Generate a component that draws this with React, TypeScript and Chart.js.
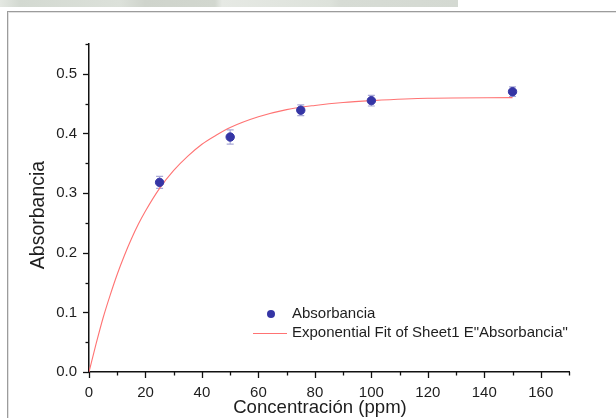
import React, { useEffect, useRef } from "react";
import { Chart, registerables } from "chart.js";

Chart.register(...registerables);

// ---- data ----
const concentrations = [25, 50, 75, 100, 150];
const absorbance = [0.318, 0.394, 0.439, 0.455, 0.47];
const absorbanceError = [0.01, 0.012, 0.009, 0.009, 0.008];

// fitted curve
const fitX = [0, 2.5, 5, 7.5, 10, 12.5, 15, 17.5, 20, 25, 30, 35, 40, 45, 50, 60, 70, 80, 90, 100, 120, 150];
const fitY = [0, 0.047, 0.091, 0.129, 0.164, 0.195, 0.223, 0.248, 0.27, 0.308, 0.338, 0.362, 0.382, 0.397, 0.41, 0.428, 0.44, 0.447, 0.452, 0.455, 0.459, 0.46];

const seriesLabel = "Absorbancia";
const fitLabel = 'Exponential Fit of Sheet1 E"Absorbancia"';
const xTitle = "Concentración (ppm)";
const yTitle = "Absorbancia";

const xMin = 0;
const xMax = 170;
const xStep = 10;
const xLabelEvery = 20;
const xLastLabel = 160;
const yMin = 0;
const yMax = 0.55;
const yStep = 0.05;
const yLabelEvery = 0.1;

const FONT = "'Liberation Sans', Arial, sans-serif";
const TEXT = "#1e1e1e";
const POINT = "#3535a5";
const ERR = "#a9a9d6";
const FIT = "#ff7373";

const isMultiple = (v: number, m: number) => Math.abs(v / m - Math.round(v / m)) < 1e-6;

const tickMarks = {
  id: "tickMarks",
  afterDraw(chart: any) {
    const ctx = chart.ctx;
    const xs = chart.scales.x;
    const ys = chart.scales.y;
    const area = chart.chartArea;
    ctx.save();
    ctx.strokeStyle = "#111";
    ctx.lineWidth = 1.3;
    xs.ticks.forEach((t: any) => {
      const px = Math.round(xs.getPixelForValue(t.value)) + 0.5;
      const major = isMultiple(t.value, xLabelEvery);
      ctx.beginPath();
      ctx.moveTo(px, area.bottom);
      ctx.lineTo(px, area.bottom + (major ? 6 : 3.5));
      ctx.stroke();
    });
    ys.ticks.forEach((t: any) => {
      const py = Math.round(ys.getPixelForValue(t.value)) + 0.5;
      const major = isMultiple(t.value, yLabelEvery);
      ctx.beginPath();
      ctx.moveTo(area.left, py);
      ctx.lineTo(area.left - (major ? 6 : 3.5), py);
      ctx.stroke();
    });
    ctx.restore();
  },
};

const errorBars = {
  id: "errorBars",
  beforeDatasetsDraw(chart: any) {
    const ctx = chart.ctx;
    const xs = chart.scales.x;
    const ys = chart.scales.y;
    ctx.save();
    ctx.strokeStyle = ERR;
    ctx.lineWidth = 1.2;
    concentrations.forEach((c, i) => {
      const px = xs.getPixelForValue(c);
      const top = ys.getPixelForValue(absorbance[i] + absorbanceError[i]);
      const bot = ys.getPixelForValue(absorbance[i] - absorbanceError[i]);
      ctx.beginPath();
      ctx.moveTo(px, top);
      ctx.lineTo(px, bot);
      ctx.moveTo(px - 3.5, top);
      ctx.lineTo(px + 3.5, top);
      ctx.moveTo(px - 3.5, bot);
      ctx.lineTo(px + 3.5, bot);
      ctx.stroke();
    });
    ctx.restore();
  },
};

const titlesAndLegend = {
  id: "titlesAndLegend",
  afterDraw(chart: any) {
    const ctx = chart.ctx;
    const area = chart.chartArea;
    ctx.save();
    ctx.fillStyle = TEXT;
    // x title
    ctx.font = `18.6px ${FONT}`;
    ctx.textAlign = "center";
    ctx.textBaseline = "alphabetic";
    ctx.fillText(xTitle, (area.left + area.right) / 2 - 9, area.bottom + 41);
    // y title
    ctx.save();
    ctx.font = `19.5px ${FONT}`;
    ctx.translate(area.left - 45, (area.top + area.bottom) / 2 + 7);
    ctx.rotate(-Math.PI / 2);
    ctx.textBaseline = "alphabetic";
    ctx.fillText(yTitle, 0, 0);
    ctx.restore();
    // legend
    const ds = chart.data.datasets;
    const lx = 253;
    const ly1 = 314;
    const ly2 = 333;
    ctx.fillStyle = POINT;
    ctx.beginPath();
    ctx.arc(lx + 18, ly1, 4, 0, Math.PI * 2);
    ctx.fill();
    ctx.strokeStyle = FIT;
    ctx.lineWidth = 1.2;
    ctx.beginPath();
    ctx.moveTo(lx, ly2 + 0.5);
    ctx.lineTo(lx + 34, ly2 + 0.5);
    ctx.stroke();
    ctx.fillStyle = TEXT;
    ctx.font = `15px ${FONT}`;
    ctx.textAlign = "left";
    ctx.textBaseline = "middle";
    ctx.fillText(ds[0].label, lx + 39, ly1);
    ctx.fillText(ds[1].label, lx + 39, ly2);
    ctx.restore();
  },
};

export default function App() {
  const ref = useRef<HTMLCanvasElement | null>(null);

  useEffect(() => {
    if (!ref.current) return;
    const scatterPoints = concentrations.map((c, i) => ({ x: c, y: absorbance[i] }));
    const fitPoints = fitX.map((x, i) => ({ x, y: fitY[i] }));
    const chart = new Chart(ref.current, {
      type: "scatter",
      data: {
        datasets: [
          {
            label: seriesLabel,
            data: scatterPoints,
            backgroundColor: POINT,
            borderColor: POINT,
            pointRadius: 4.2,
            pointHoverRadius: 4.2,
            order: 0,
          },
          {
            label: fitLabel,
            data: fitPoints,
            showLine: true,
            borderColor: FIT,
            borderWidth: 1.1,
            pointRadius: 0,
            cubicInterpolationMode: "monotone",
            order: 1,
          } as any,
        ],
      },
      options: {
        responsive: false,
        animation: false,
        devicePixelRatio: 1,
        layout: { padding: { left: 0, top: 44, right: 47, bottom: 0 } },
        plugins: { legend: { display: false }, tooltip: { enabled: false } },
        scales: {
          x: {
            type: "linear",
            min: xMin,
            max: xMax,
            afterFit: (s: any) => {
              s.height = 46;
            },
            afterBuildTicks: (s: any) => {
              const t = [];
              for (let v = xMin; v <= xMax + 1e-9; v += xStep) t.push({ value: v });
              s.ticks = t;
            },
            grid: { display: false, drawTicks: false },
            border: { display: true, color: "#111", width: 1.5 },
            ticks: {
              padding: 12,
              maxRotation: 0,
              autoSkip: false,
              color: TEXT,
              font: { family: FONT, size: 15 },
              callback: (v: any) => (isMultiple(v, xLabelEvery) && v <= xLastLabel ? String(v) : ""),
            },
          },
          y: {
            type: "linear",
            min: yMin,
            max: yMax,
            afterFit: (s: any) => {
              s.width = 89;
            },
            afterBuildTicks: (s: any) => {
              const t = [];
              for (let i = 0; yMin + i * yStep <= yMax + 1e-9; i++) t.push({ value: +(yMin + i * yStep).toFixed(4) });
              s.ticks = t;
            },
            grid: { display: false, drawTicks: false },
            border: { display: true, color: "#111", width: 1.5 },
            ticks: {
              padding: 12,
              autoSkip: false,
              color: TEXT,
              font: { family: FONT, size: 15 },
              callback: (v: any) => (isMultiple(v, yLabelEvery) ? Number(v).toFixed(1) : ""),
            },
          },
        },
      },
      plugins: [errorBars, tickMarks, titlesAndLegend],
    });
    return () => chart.destroy();
  }, []);

  return (
    <div
      style={{
        position: "fixed",
        left: 0,
        top: 0,
        width: 616,
        height: 418,
        background: "#ffffff",
        overflow: "hidden",
      }}
    >
      <div
        style={{
          position: "absolute",
          left: 0,
          top: 0,
          width: 458,
          height: 7,
          background:
            "linear-gradient(90deg, #e4e8e2 0px, #d3d9d1 20px, #dce1da 120px, #cfd4cc 145px, #d2d7cf 215px, #e6e9e4 222px, #dde2db 330px, #d7dcd5 340px, #d4d9d2 458px)",
        }}
      />
      <div
        style={{
          position: "absolute",
          left: 7,
          top: 11,
          width: 700,
          height: 600,
          border: "1px solid #9c9c9c",
          boxShadow: "inset 1px 1px 0 #e2e2e2",
        }}
      />
      <canvas ref={ref} width={616} height={418} style={{ position: "absolute", left: 0, top: 0 }} />
    </div>
  );
}
